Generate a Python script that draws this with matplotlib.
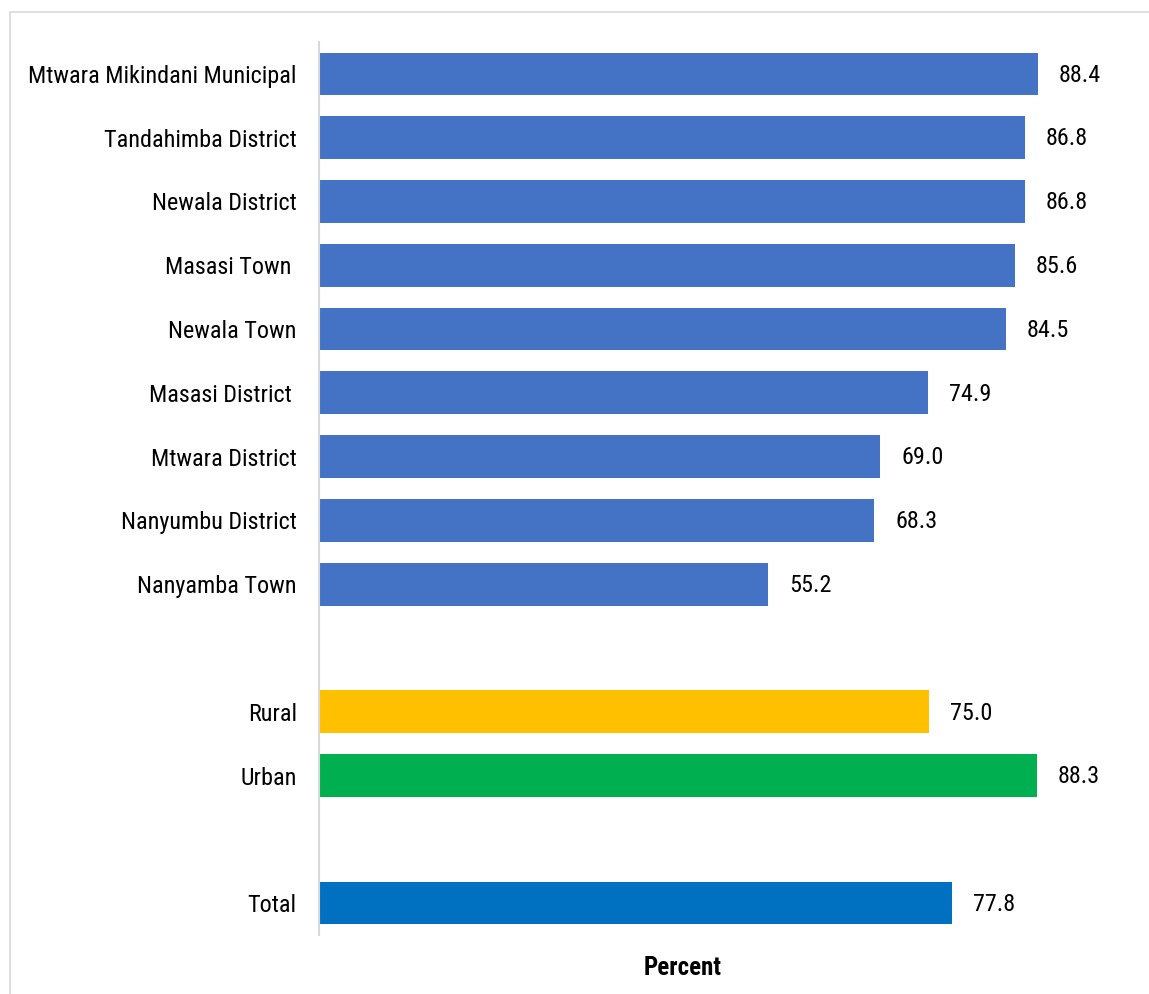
import matplotlib.pyplot as plt
from matplotlib.patches import Rectangle

# Data
districts = ["Mtwara Mikindani Municipal", "Tandahimba District", "Newala District",
             "Masasi Town ", "Newala Town", "Masasi District ", "Mtwara District",
             "Nanyumbu District", "Nanyamba Town"]
district_values = [88.4, 86.8, 86.8, 85.6, 84.5, 74.9, 69.0, 68.3, 55.2]
area_labels = ["Rural", "Urban"]
area_values = [75.0, 88.3]
total_label = "Total"
total_value = 77.8

# condensed font, close to Arial Narrow
plt.rcParams["font.family"] = ["Roboto Condensed", "DejaVu Sans"]

# slot positions: districts, gap, rural/urban, gap, total
labels = districts + area_labels + [total_label]
values = district_values + area_values + [total_value]
positions = list(range(len(districts))) + [10, 11] + [13]
colors = ["#4472C4"] * len(districts) + ["#FFC000", "#00B050"] + ["#0070C0"]

fig = plt.figure(figsize=(11.49, 9.94), dpi=100)
ax = fig.add_axes([319 / 1149, 59 / 994, 813 / 1149, 893 / 994])

ax.barh(positions, values, height=0.67, color=colors)
for y, v in zip(positions, values):
    ax.text(v + 2.6, y + 0.02, f"{v:.1f}", va="center", ha="left", fontsize=17.4)

ax.set_xlim(0, 100)
ax.set_ylim(13.5, -0.5)
ax.set_yticks(positions)
ax.set_yticklabels(labels, fontsize=17.4)
ax.tick_params(axis="y", length=0, pad=16)
ax.set_xticks([])
for side in ["top", "right", "bottom"]:
    ax.spines[side].set_visible(False)
ax.spines["left"].set_color("#D9D9D9")
ax.spines["left"].set_linewidth(1.5)

fig.text(683 / 1149, 1 - 968 / 994, "Percent", ha="center", va="center",
         fontsize=18, fontweight="bold")

# light frame around the chart area
fig.patches.append(Rectangle((10 / 1149, -0.1), 1.2, 1 - 12 / 994 + 0.1,
                             transform=fig.transFigure, fill=False,
                             edgecolor="#D9D9D9", linewidth=1.2))

fig.savefig("out.png", dpi=100)
